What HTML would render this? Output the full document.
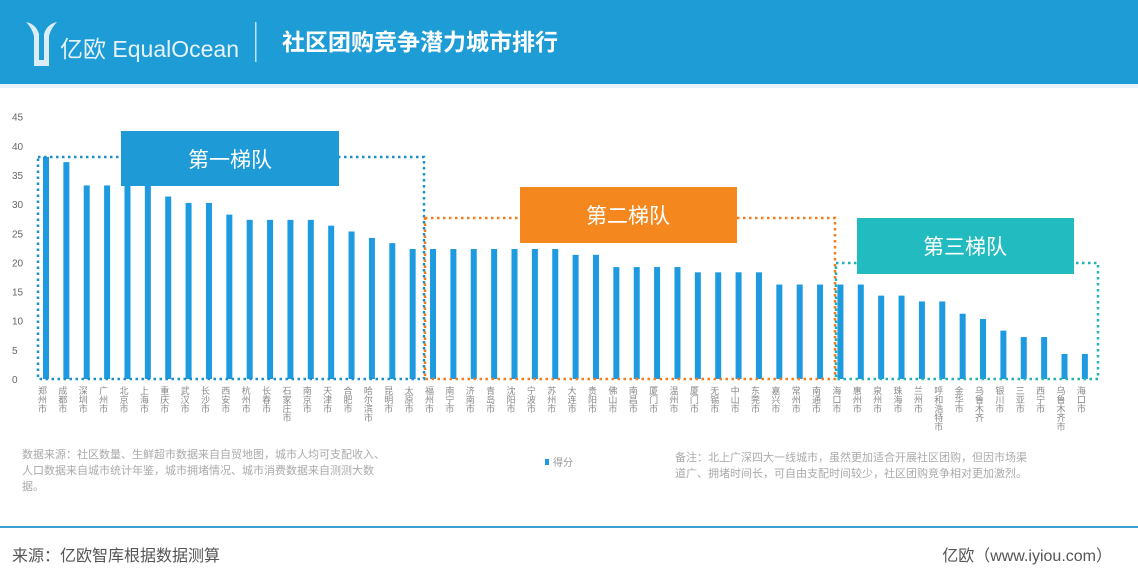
<!DOCTYPE html>
<html><head><meta charset="utf-8"><style>
body{margin:0;width:1138px;height:582px;background:#fff;overflow:hidden;font-family:"Liberation Sans","Noto Sans CJK SC",sans-serif}
</style></head><body>
<svg width="1138" height="582" xmlns="http://www.w3.org/2000/svg" id="chart">
<rect x="0" y="0" width="1138" height="84" fill="#1e9cd6"/>
<rect x="0" y="84" width="1138" height="4" fill="#e8f3f9"/>
<g fill="#dbeef8">
<path d="M26 22 q10 2 13 12 v26 h5 v-26 q3-10 13-12 q-6 6-8 14 v30 h-15 v-30 q-2-8-8-14z"/>
<text x="60" y="57" font-size="23" fill="#e6f3fb" font-family="'Liberation Sans','Noto Sans CJK SC',sans-serif">亿欧 EqualOcean</text>
</g>
<rect x="255" y="22" width="1.5" height="40" fill="#bfe2f4"/>
<text x="282" y="50" font-size="23" font-weight="bold" fill="#fff">社区团购竞争潜力城市排行</text>
<g id="yaxis" font-size="10" fill="#666"></g>
<g id="bars"></g>
<g id="xlabels" font-size="9" fill="#888"></g>
<g fill="none" stroke-width="2.5" stroke-dasharray="2.5 3.5">
<rect x="38" y="157" width="386" height="222" stroke="#1e8fc4"/>
<rect x="425" y="218" width="410" height="161" stroke="#f07e1e"/>
<rect x="836" y="263" width="262" height="116" stroke="#22b2b5"/>
</g>
<g><rect x="121" y="131" width="218" height="55" fill="#1e9bd7"/><text x="230" y="167" font-size="21" fill="#fff" text-anchor="middle">第一梯队</text></g>
<g><rect x="520" y="187" width="217" height="56" fill="#f5871f"/><text x="628" y="223" font-size="21" fill="#fff" text-anchor="middle">第二梯队</text></g>
<g><rect x="857" y="218" width="217" height="56" fill="#22bcc0"/><text x="965" y="254" font-size="21" fill="#fff" text-anchor="middle">第三梯队</text></g>
<g font-size="11" fill="#aaa">
<text x="22" y="458">数据来源：社区数量、生鲜超市数据来自自贸地图，城市人均可支配收入、</text>
<text x="22" y="474">人口数据来自城市统计年鉴，城市拥堵情况、城市消费数据来自测测大数</text>
<text x="22" y="490">据。</text></g>
<g><rect x="545" y="459" width="4" height="6" fill="#1e9ae0"/><text x="553" y="466" font-size="10" fill="#999">得分</text></g>
<g font-size="11" fill="#aaa">
<text x="675" y="461">备注：北上广深四大一线城市，虽然更加适合开展社区团购，但因市场渠</text>
<text x="675" y="477">道广、拥堵时间长，可自由支配时间较少，社区团购竞争相对更加激烈。</text></g>
<rect x="0" y="526" width="1138" height="2" fill="#3a9fd0"/>
<text x="12" y="561" font-size="16" fill="#555">来源：亿欧智库根据数据测算</text>
<text x="1112" y="561" font-size="16" fill="#555" text-anchor="end">亿欧（www.iyiou.com）</text>
</svg>
<script>
const cities=["郑州市","成都市","深圳市","广州市","北京市","上海市","重庆市","武汉市","长沙市","西安市","杭州市","长春市","石家庄市","南京市","天津市","合肥市","哈尔滨市","昆明市","太原市","福州市","南宁市","济南市","青岛市","沈阳市","宁波市","苏州市","大连市","贵阳市","佛山市","南昌市","厦门市","温州市","厦门市","无锡市","中山市","东莞市","嘉兴市","常州市","南通市","海口市","惠州市","泉州市","珠海市","兰州市","呼和浩特市","金华市","乌鲁木齐","银川市","三亚市","西宁市","乌鲁木齐市","海口市"];
const scores=[38.1,37.2,33.2,33.2,33.2,33.2,31.3,30.2,30.2,28.2,27.3,27.3,27.3,27.3,26.3,25.3,24.2,23.3,22.3,22.3,22.3,22.3,22.3,22.3,22.3,22.3,21.3,21.3,19.2,19.2,19.2,19.2,18.3,18.3,18.3,18.3,16.2,16.2,16.2,16.2,16.2,14.3,14.3,13.3,13.3,11.2,10.3,8.3,7.2,7.2,4.3,4.3];
const yTicks=[0,5,10,15,20,25,30,35,40,45];
const NS="http://www.w3.org/2000/svg";
const y0=379,yk=5.83,x0=46,step=20.37;
const yS=v=>y0-v*yk, xS=i=>x0+i*step;
const ya=document.getElementById('yaxis');
yTicks.forEach(t=>{const e=document.createElementNS(NS,'text');


e.setAttribute('x',12);e.setAttribute('y',yS(t)+4);e.textContent=t;ya.appendChild(e);});
const bg=document.getElementById('bars'),xl=document.getElementById('xlabels');
scores.forEach((v,i)=>{const r=document.createElementNS(NS,'rect');


r.setAttribute('x',xS(i)-3);r.setAttribute('y',yS(v));r.setAttribute('width',6);r.setAttribute('height',v*yk);r.setAttribute('fill','#1e9ae0');bg.appendChild(r);
const t=document.createElementNS(NS,'text');


t.setAttribute('x',xS(i)-4);t.setAttribute('y',386);t.setAttribute('writing-mode','tb');t.setAttribute('style','writing-mode:vertical-rl');t.textContent=cities[i];xl.appendChild(t);});
</script>
</body></html>
